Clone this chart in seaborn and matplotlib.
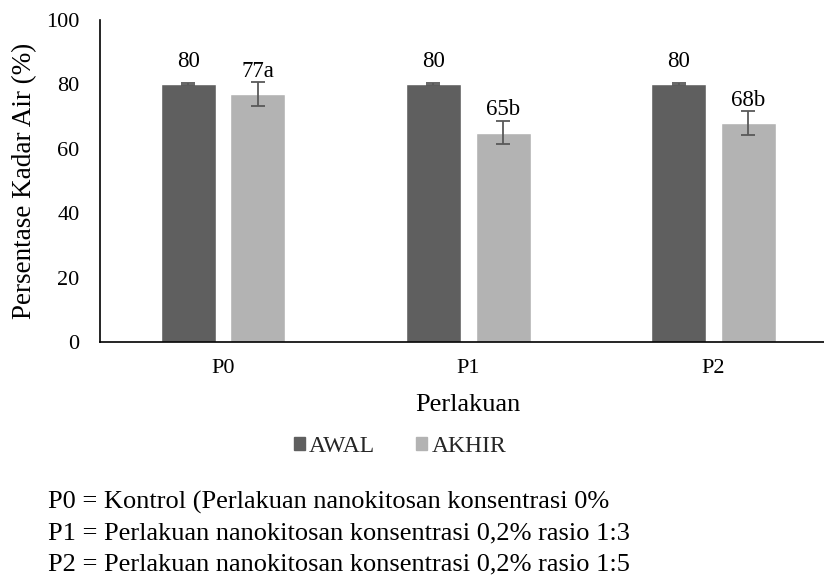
import matplotlib
matplotlib.use("Agg")
import matplotlib.pyplot as plt
import matplotlib.patches as mpatches
import seaborn as sns
import pandas as pd

# Data
perlakuan = ["P0", "P1", "P2"]
awal = [80, 80, 80]
akhir = [77, 65, 68]
err_awal = [0.3, 0.3, 0.3]
err_akhir = [3.6, 3.5, 3.6]
notasi_akhir = ["a", "b", "b"]
yticks = [0, 20, 40, 60, 80, 100]
keterangan = [
    "P0 = Kontrol (Perlakuan nanokitosan konsentrasi 0%",
    "P1 = Perlakuan nanokitosan konsentrasi 0,2% rasio 1:3",
    "P2 = Perlakuan nanokitosan konsentrasi 0,2% rasio 1:5",
]

df = pd.DataFrame({
    "Perlakuan": perlakuan * 2,
    "Nilai": awal + akhir,
    "Waktu": ["AWAL"] * 3 + ["AKHIR"] * 3,
})
errs = err_awal + err_akhir
labels = [str(v) for v in awal] + [f"{v}{n}" for v, n in zip(akhir, notasi_akhir)]

sns.set_theme(style="white")
plt.rcParams["font.family"] = ["Liberation Serif", "DejaVu Serif"]

colors = {"AWAL": "#5f5f5f", "AKHIR": "#b3b3b3"}
FS_TICK = 16
FS_DATA = 16.5
FS_AXLAB = 19
FS_LEG = 17
FS_NOTE = 19

fig = plt.figure(figsize=(8.24, 5.79), dpi=100)
# the plotting area runs past the right edge of the figure
ax = fig.add_axes([0.1217, 0.4093, 0.893, 0.5562])

sns.barplot(data=df, x="Perlakuan", y="Nilai", hue="Waktu", palette=colors,
            width=0.568, gap=0.211, errorbar=None, ax=ax, legend=False,
            saturation=1)

bars = [p for p in ax.patches if p.get_height() > 0]
bars.sort(key=lambda p: (0 if p.get_facecolor()[0] < 0.5 else 1, p.get_x()))
for bar, e, lab in zip(bars, errs, labels):
    cx = bar.get_x() + bar.get_width() / 2
    h = bar.get_height()
    ax.errorbar(cx, h, yerr=e, fmt="none", ecolor="#595959", elinewidth=1.3,
                capsize=4.8, capthick=1.3)
    ax.annotate(lab, (cx, h), xytext=(0, 12.6), textcoords="offset points",
                ha="center", va="baseline", fontsize=FS_DATA, color="black")

ax.set_xlim(-0.5, 2.5)
ax.set_ylim(0, 100)
ax.set_yticks(yticks)
ax.tick_params(axis="both", length=0, labelsize=FS_TICK, colors="black")
ax.tick_params(axis="x", pad=12.5)
ax.tick_params(axis="y", pad=15)
ax.set_xlabel("Perlakuan", fontsize=FS_AXLAB, color="black", labelpad=11.5)
ax.set_ylabel("Persentase Kadar Air (%)", fontsize=FS_AXLAB + 0.5,
              color="black", labelpad=6.5)
for s in ["top", "right"]:
    ax.spines[s].set_visible(False)
for s in ["left", "bottom"]:
    ax.spines[s].set_color("black")
    ax.spines[s].set_linewidth(1.2)

handles = [mpatches.Patch(color=colors[k], label=k) for k in ["AWAL", "AKHIR"]]
fig.legend(handles=handles, loc="center", bbox_to_anchor=(0.4854, 0.2297),
           ncol=2, frameon=False, fontsize=FS_LEG, handlelength=0.47,
           handleheight=0.47, handletextpad=0.17, columnspacing=1.74,
           borderpad=0, borderaxespad=0)

for i, t in enumerate(keterangan):
    fig.text(47.5 / 824, 1 - (508.3 + 31.3 * i) / 579, t, fontsize=FS_NOTE,
             ha="left", va="baseline", color="black")

fig.savefig("out.png", dpi=100)
